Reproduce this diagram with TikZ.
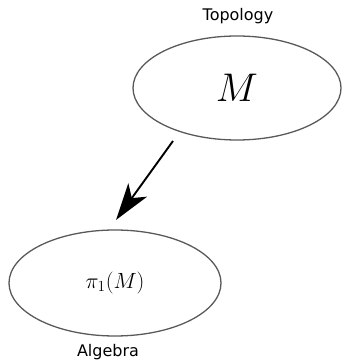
\RequirePackage{fix-cm}
\documentclass[tikz,border=0pt]{standalone}
\usepackage{fontspec}
\setsansfont{DejaVu Sans}
\usetikzlibrary{arrows.meta,shapes.geometric}
\begin{document}
\begin{tikzpicture}[x=1pt,y=1pt,
  oval/.style={draw=black!65,line width=1.3pt,ellipse,minimum width=208pt,minimum height=104pt,inner sep=0pt},
  lbl/.style={font=\sffamily\fontsize{16}{19}\selectfont,inner sep=0pt},
  arr/.style={line width=1.9pt,-{Stealth[length=37pt,width=23pt,inset=10pt]}}]
\useasboundingbox (0,0) rectangle (343,361);
\node[oval] (top) at (237,273) {\fontsize{40}{44}\selectfont$M$};
\node[oval,minimum width=212pt,minimum height=106pt] (bot) at (115,78) {\fontsize{22}{25}\selectfont$\pi_1(M)$};
\node[lbl] (tl) at (238,345) {Topology};
\node[lbl] (bl) at (108,9) {Algebra};
\coordinate (s) at (173,220);
\coordinate (t) at (116,141);
\draw[arr] (s) -- (t);
\end{tikzpicture}
\end{document}
